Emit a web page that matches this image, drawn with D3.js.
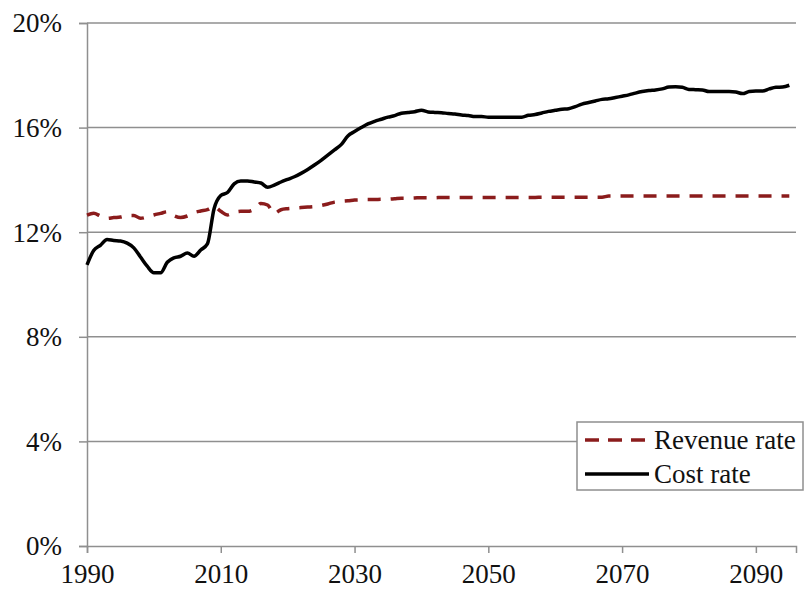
<!DOCTYPE html>
<html>
<head>
<meta charset="utf-8">
<script src="https://cdn.jsdelivr.net/npm/d3@7"></script>
<style>
  body { margin: 0; background: #fff; }
  svg { display: block; font-family: "Liberation Serif", "Times New Roman", serif; }
</style>
</head>
<body>
<div id="chart"></div>
<script>
// data, one value per year 1990-2095 (percent)
var startYear = 1990;
var costRate = [
  10.75, 11.3, 11.5, 11.72, 11.68, 11.66, 11.58, 11.4, 11.05, 10.7,
  10.45, 10.45, 10.85, 11.02, 11.08, 11.2, 11.08, 11.32, 11.55, 12.9,
  13.4, 13.52, 13.85, 13.96, 13.96, 13.92, 13.88, 13.72, 13.8, 13.92,
  14.02, 14.12, 14.25, 14.4, 14.57, 14.75, 14.95, 15.15, 15.35, 15.68,
  15.85, 16.0, 16.14, 16.24, 16.32, 16.4, 16.46, 16.55, 16.58, 16.61,
  16.66, 16.6, 16.58, 16.57, 16.54, 16.52, 16.48, 16.46, 16.42, 16.42,
  16.4, 16.4, 16.4, 16.4, 16.4, 16.4, 16.47, 16.5, 16.56, 16.62,
  16.66, 16.7, 16.72, 16.8, 16.9, 16.96, 17.02, 17.08, 17.1, 17.15,
  17.2, 17.25, 17.32, 17.38, 17.42, 17.44, 17.48, 17.55, 17.56, 17.54,
  17.46, 17.45, 17.44, 17.38, 17.38, 17.38, 17.38, 17.36, 17.3, 17.38,
  17.4, 17.4, 17.48, 17.54, 17.55, 17.62
];
var revenueRate = [
  12.65, 12.72, 12.62, 12.53, 12.56, 12.58, 12.64, 12.64, 12.53, 12.58,
  12.66, 12.72, 12.78, 12.63, 12.56, 12.62, 12.75, 12.81, 12.86, 12.98,
  12.8, 12.66, 12.76, 12.8, 12.8, 12.88, 13.1, 13.04, 12.72, 12.86,
  12.9, 12.92, 12.94, 12.96, 12.98, 13.02, 13.08, 13.15, 13.18, 13.2,
  13.23, 13.24, 13.25, 13.25, 13.26, 13.26, 13.28, 13.3, 13.3, 13.31,
  13.32, 13.32, 13.32, 13.33, 13.33, 13.33, 13.33, 13.33, 13.33, 13.33,
  13.33, 13.33, 13.33, 13.33, 13.33, 13.33, 13.33, 13.33, 13.34, 13.34,
  13.34, 13.34, 13.34, 13.34, 13.34, 13.34, 13.34, 13.34, 13.38, 13.38,
  13.38, 13.38, 13.38, 13.38, 13.38, 13.38, 13.38, 13.38, 13.38, 13.38,
  13.38, 13.38, 13.38, 13.38, 13.38, 13.38, 13.38, 13.38, 13.38, 13.38,
  13.38, 13.38, 13.38, 13.38, 13.38, 13.38
];
var yearTicks = [1990, 2010, 2030, 2050, 2070, 2090];
var pctTicks = [0, 4, 8, 12, 16, 20];
var seriesNames = ["Revenue rate", "Cost rate"];

var w = 804, h = 592;
var margin = {top: 23, right: 8, bottom: 46, left: 87};

var svg = d3.select("#chart").append("svg").attr("width", w).attr("height", h);

var x = d3.scaleLinear().domain([1990, 2096]).range([margin.left, w - margin.right]);
var y = d3.scaleLinear().domain([0, 20]).range([h - margin.bottom, margin.top]);

// horizontal gridlines
svg.append("g").selectAll("line")
    .data(pctTicks.filter(function(d) { return d > 0; }))
    .enter().append("line")
    .attr("x1", margin.left).attr("x2", w - margin.right)
    .attr("y1", function(d) { return y(d); }).attr("y2", function(d) { return y(d); })
    .style("stroke", "#8f8f8f").style("stroke-width", 1.5);

// y axis
var yAxis = d3.axisLeft(y).tickValues(pctTicks).tickSize(8).tickPadding(17)
    .tickFormat(function(d) { return d + "%"; });
var gy = svg.append("g").attr("transform", "translate(" + margin.left + ",0)").call(yAxis);

// x axis
var xAxis = d3.axisBottom(x).tickValues(yearTicks).tickSize(7).tickPadding(10)
    .tickFormat(d3.format("d"));
var gx = svg.append("g").attr("transform", "translate(0," + (h - margin.bottom) + ")").call(xAxis);

[gx, gy].forEach(function(g) {
  g.select(".domain").style("stroke", "#8f8f8f").style("stroke-width", 1.5);
  g.selectAll(".tick line").style("stroke", "#8f8f8f").style("stroke-width", 1.5);
  g.selectAll("text").style("font-family", "Liberation Serif, serif")
    .style("font-size", "27px").style("fill", "#111");
});
gy.selectAll("text").attr("dy", "0.33em");
gx.selectAll("text").attr("dy", "0.75em");

var line = d3.line()
    .x(function(d, i) { return x(startYear + i); })
    .y(function(d) { return y(d); })
    .curve(d3.curveMonotoneX);

svg.append("path").datum(revenueRate)
    .attr("d", line)
    .style("fill", "none").style("stroke", "#8b1c1c")
    .style("stroke-width", 3.5).style("stroke-dasharray", "13,10");

svg.append("path").datum(costRate)
    .attr("d", line)
    .style("fill", "none").style("stroke", "#000")
    .style("stroke-width", 3.5).style("stroke-linejoin", "round");

// legend
var lg = svg.append("g").attr("transform", "translate(577,422)");
lg.append("rect").attr("width", 226).attr("height", 68)
    .style("fill", "#fff").style("stroke", "#8f8f8f").style("stroke-width", 1.5);
var items = lg.selectAll(".item").data(seriesNames).enter().append("g")
    .attr("transform", function(d, i) { return "translate(0," + (18 + i * 34) + ")"; });
items.append("line")
    .attr("x1", 8).attr("x2", 72).attr("y1", 0).attr("y2", 0)
    .style("stroke", function(d, i) { return i == 0 ? "#8b1c1c" : "#000"; })
    .style("stroke-width", 3.5)
    .style("stroke-dasharray", function(d, i) { return i == 0 ? "14,9" : null; });
items.append("text")
    .attr("x", 77).attr("y", 0).attr("dy", "0.33em")
    .style("font-size", "27px").style("fill", "#111")
    .text(function(d) { return d; });
</script>
</body>
</html>
